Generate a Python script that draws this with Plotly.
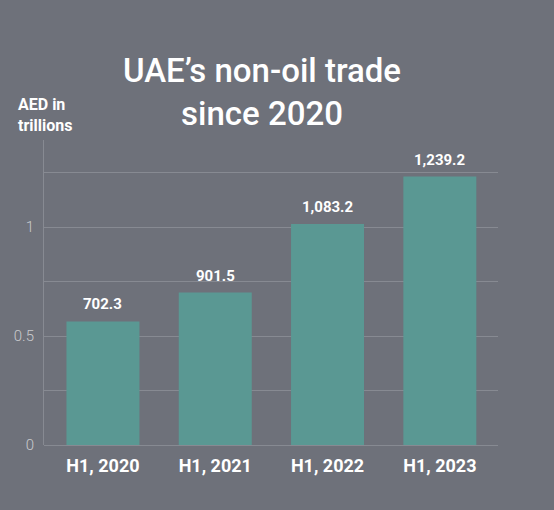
import plotly.graph_objects as go

categories = ["H1, 2020", "H1, 2021", "H1, 2022", "H1, 2023"]
bar_heights = [0.567, 0.70, 1.014, 1.232]  # as drawn, AED trillions
value_labels = ["702.3", "901.5", "1,083.2", "1,239.2"]
tick_vals = [0, 0.25, 0.5, 0.75, 1, 1.25]
tick_text = ["0", "", "0.5", "", "1", ""]

BG = "#6e717a"
BAR = "#5a9893"
GRID = "#878a92"

fig = go.Figure(go.Bar(
    x=categories, y=bar_heights,
    marker=dict(color=BAR, line=dict(width=0)),
    hoverinfo="skip",
))

label_annotations = [
    dict(x=c, y=h, xref="x", yref="y", text=f"<b>{t}</b>", showarrow=False,
         xanchor="center", yanchor="bottom", yshift=6,
         font=dict(family="Roboto", size=15, color="white"))
    for c, h, t in zip(categories, bar_heights, value_labels)
]

fig.update_layout(
    width=554, height=510,
    paper_bgcolor=BG, plot_bgcolor=BG,
    margin=dict(l=44, r=56, t=140, b=65),
    bargap=0.35,
    showlegend=False,
    title=dict(
        text="UAE’s non-oil trade<br>since 2020",
        font=dict(family="Roboto", size=33, color="white", weight=500),
        x=262/554, xanchor="center", xref="container",
        y=1 - 82/510, yanchor="top", yref="container",
    ),
    annotations=label_annotations + [dict(
        text="<b>AED in<br>trillions</b>",
        xref="paper", yref="paper",
        x=(16 - 44) / 454, y=(445.3 - 93) / 305.3,
        xanchor="left", yanchor="top", align="left", showarrow=False,
        font=dict(family="Roboto", size=16, color="white"),
    )],
    xaxis=dict(
        range=[-0.525, 3.518],
        showgrid=False, showline=False, zeroline=False,
        tickfont=dict(family="Roboto", size=18, color="white", weight="bold"),
        ticks="", ticklen=0, ticklabelstandoff=8,
    ),
    yaxis=dict(
        range=[0, 1.4], tickvals=tick_vals, ticktext=tick_text,
        showgrid=True, gridcolor=GRID, gridwidth=1,
        zeroline=True, zerolinecolor=GRID, zerolinewidth=1,
        showline=True, linecolor=GRID, linewidth=1,
        tickfont=dict(family="Roboto", size=15, color="#c9cacd", weight=300),
        ticks="", ticklabelstandoff=6,
    ),
)

fig.write_html("out.html", config={"displayModeBar": False},
               post_script="document.body.style.margin='0';")
